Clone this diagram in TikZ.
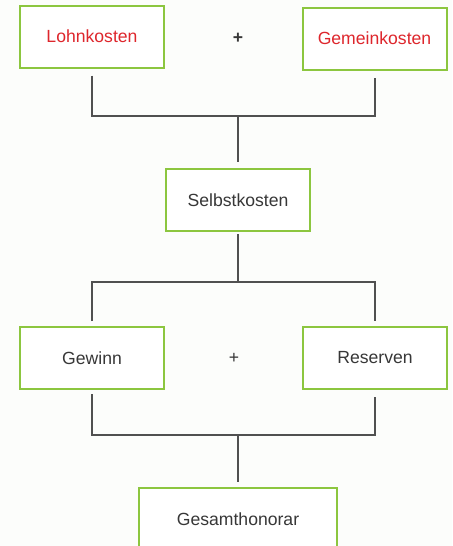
\documentclass[tikz,border=0pt]{standalone}
\usepackage{fontspec}
\setmainfont{Liberation Sans}
\usepackage{tikz}

\definecolor{boxgreen}{RGB}{140,198,63}
\definecolor{costred}{RGB}{222,38,44}
\definecolor{textgray}{RGB}{55,55,55}
\definecolor{linegray}{RGB}{80,80,80}

\begin{document}
\begin{tikzpicture}[x=0.5pt, y=-0.5pt,
    costbox/.style={draw=boxgreen, line width=1pt, fill=white, minimum width=72pt, minimum height=31pt, inner sep=0pt, font=\fontsize{8.8}{10}\selectfont, text=textgray},
    wire/.style={draw=linegray, line width=1pt}]
    \useasboundingbox[fill={rgb,255:red,252;green,253;blue,251}] (0,0) rectangle (452,546);

    \node[costbox, text=costred] (lohn) at (92,36.5) {Lohnkosten};
    \node[costbox, text=costred] (gemein) at (374.5,38.5) {Gemeinkosten};
    \node[costbox] (selbst) at (238,200) {Selbstkosten};
    \node[costbox] (gewinn) at (92,358) {Gewinn};
    \node[costbox] (reserven) at (375,358) {Reserven};
    \node[costbox, minimum width=99pt] (gesamt) at (238,519) {Gesamthonorar};

    \node[text=textgray, font=\fontsize{8.8}{10}\selectfont\bfseries] (plus1) at (238,38) {+};
    \node[text=textgray, font=\fontsize{8.8}{10}\selectfont] (plus2) at (234,358) {+};

    \coordinate (J1) at (238,116);
    \coordinate (J2) at (238,282);
    \coordinate (J3) at (238,435);

    % top pair
    \draw[wire, shorten <=3.5pt, shorten >=3.5pt] (lohn.south) |- (J1) -| (gemein.south);
    \draw[wire, shorten >=3pt] (J1) -- (selbst.north);

    % middle pair
    \draw[wire, shorten <=1pt] (selbst.south) -- (J2);
    \draw[wire, shorten <=2.5pt, shorten >=2.5pt] (gewinn.north) |- (J2) -| (reserven.north);

    % bottom pair
    \draw[wire, shorten <=2pt, shorten >=3.5pt] (gewinn.south) |- (J3) -| (reserven.south);
    \draw[wire, shorten >=2.5pt] (J3) -- (gesamt.north);
\end{tikzpicture}
\end{document}
